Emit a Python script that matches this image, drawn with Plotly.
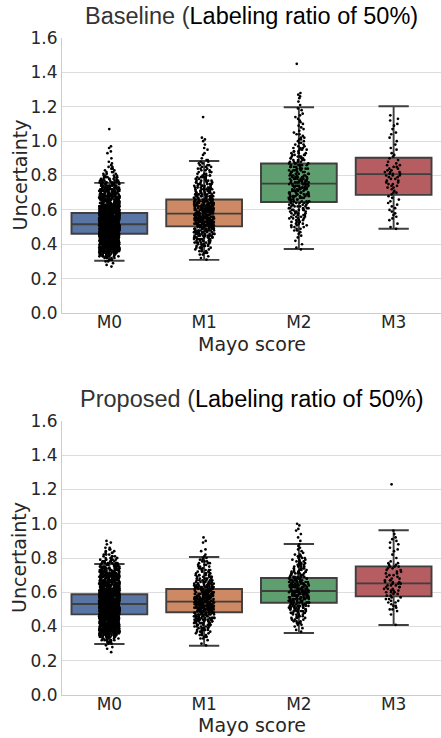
import plotly.graph_objects as go

categories = ["M0", "M1", "M2", "M3"]
panel_titles = ["Baseline (", "Proposed ("]
title_tail = "Labeling ratio of 50%)"
y_ticks = [0.0, 0.2, 0.4, 0.6, 0.8, 1.0, 1.2, 1.4, 1.6]

# Box statistics
base_q1 = [0.461, 0.504, 0.646, 0.687]
base_med = [0.516, 0.578, 0.753, 0.808]
base_q3 = [0.582, 0.660, 0.870, 0.903]
base_lo = [0.304, 0.309, 0.372, 0.490]
base_hi = [0.757, 0.884, 1.197, 1.203]

prop_q1 = [0.471, 0.483, 0.539, 0.576]
prop_med = [0.531, 0.545, 0.607, 0.652]
prop_q3 = [0.588, 0.619, 0.683, 0.751]
prop_lo = [0.298, 0.288, 0.362, 0.409]
prop_hi = [0.765, 0.806, 0.882, 0.962]

# Strip-point clouds, read as (value, number of dots at that value)
base_m0_y = [0.27, 0.28, 0.29, 0.30, 0.31, 0.32, 0.33, 0.34, 0.35, 0.36, 0.37, 0.38, 0.39, 0.40,
             0.41, 0.42, 0.43, 0.44, 0.45, 0.46, 0.47, 0.48, 0.49, 0.50, 0.51, 0.52, 0.53, 0.54,
             0.55, 0.56, 0.57, 0.58, 0.59, 0.60, 0.61, 0.62, 0.63, 0.64, 0.65, 0.66, 0.67, 0.68,
             0.69, 0.70, 0.71, 0.72, 0.73, 0.74, 0.75, 0.76, 0.77, 0.78, 0.79, 0.80, 0.81, 0.82,
             0.83, 0.84, 0.85, 0.86, 0.87, 0.88, 0.90, 0.93, 0.94, 0.96, 0.97, 1.07]
base_m0_n = [1, 1, 1, 2, 3, 5, 8, 11, 14, 17, 20, 23, 26, 28,
             30, 33, 35, 37, 40, 40, 42, 42, 42, 42, 42, 42, 40, 40,
             38, 35, 33, 30, 30, 28, 25, 25, 23, 22, 20, 20, 18, 17,
             17, 15, 15, 15, 13, 12, 11, 9, 8, 6, 5, 4, 3, 3,
             2, 2, 2, 1, 1, 1, 1, 1, 1, 1, 1, 1]
base_m1_y = [0.31, 0.32, 0.33, 0.34, 0.35, 0.36, 0.37, 0.38, 0.39, 0.40, 0.41, 0.42, 0.43, 0.44,
             0.45, 0.46, 0.47, 0.48, 0.49, 0.50, 0.51, 0.52, 0.53, 0.54, 0.55, 0.56, 0.57, 0.58,
             0.59, 0.60, 0.61, 0.62, 0.63, 0.64, 0.65, 0.66, 0.67, 0.68, 0.69, 0.70, 0.71, 0.72,
             0.73, 0.74, 0.75, 0.76, 0.77, 0.78, 0.79, 0.80, 0.81, 0.82, 0.83, 0.84, 0.85, 0.86,
             0.87, 0.88, 0.89, 0.90, 0.92, 0.93, 0.95, 0.96, 0.98, 1.00, 1.01, 1.02, 1.14]
base_m1_n = [1, 1, 1, 2, 3, 3, 3, 5, 5, 5, 7, 7, 7, 8,
             8, 10, 10, 12, 12, 14, 14, 14, 15, 15, 15, 15, 15, 15,
             15, 14, 14, 14, 12, 12, 12, 10, 10, 10, 8, 8, 8, 7,
             7, 7, 7, 5, 5, 5, 5, 5, 3, 3, 3, 3, 3, 3,
             2, 2, 2, 1, 1, 1, 1, 1, 1, 1, 1, 1, 1]
base_m2_y = [0.37, 0.38, 0.40, 0.42, 0.44, 0.45, 0.46, 0.47, 0.48, 0.49, 0.50, 0.51, 0.52, 0.53,
             0.54, 0.55, 0.56, 0.57, 0.58, 0.59, 0.60, 0.61, 0.62, 0.63, 0.64, 0.65, 0.66, 0.67,
             0.68, 0.69, 0.70, 0.71, 0.72, 0.73, 0.74, 0.75, 0.76, 0.77, 0.78, 0.79, 0.80, 0.81,
             0.82, 0.83, 0.84, 0.85, 0.86, 0.87, 0.88, 0.89, 0.90, 0.91, 0.92, 0.93, 0.94, 0.95,
             0.96, 0.97, 0.98, 0.99, 1.00, 1.01, 1.02, 1.03, 1.04, 1.05, 1.06, 1.07, 1.08, 1.09,
             1.10, 1.11, 1.12, 1.13, 1.14, 1.15, 1.16, 1.18, 1.19, 1.21, 1.23, 1.25, 1.26, 1.27,
             1.28, 1.45]
base_m2_n = [1, 1, 1, 1, 1, 1, 1, 1, 2, 2, 3, 3, 3, 3,
             3, 4, 4, 4, 4, 4, 5, 5, 5, 5, 5, 6, 6, 7,
             7, 7, 7, 7, 7, 7, 7, 7, 7, 7, 7, 6, 6, 5,
             5, 5, 5, 5, 5, 4, 4, 4, 4, 4, 4, 3, 3, 3,
             3, 2, 2, 2, 2, 2, 2, 1, 2, 1, 1, 1, 1, 1,
             1, 1, 1, 1, 1, 1, 1, 1, 1, 1, 1, 1, 1, 1,
             1, 1]
base_m3_y = [0.49, 0.50, 0.52, 0.54, 0.55, 0.56, 0.57, 0.58, 0.59, 0.60, 0.61, 0.62, 0.63, 0.64,
             0.65, 0.66, 0.67, 0.68, 0.69, 0.70, 0.71, 0.72, 0.73, 0.74, 0.75, 0.76, 0.77, 0.78,
             0.79, 0.80, 0.81, 0.82, 0.83, 0.84, 0.85, 0.86, 0.87, 0.88, 0.89, 0.90, 0.91, 0.92,
             0.93, 0.95, 0.96, 0.98, 1.00, 1.02, 1.04, 1.05, 1.07, 1.09, 1.10, 1.12, 1.13, 1.15]
base_m3_n = [1, 1, 1, 1, 1, 1, 1, 1, 1, 1, 1, 1, 1, 1,
             1, 1, 1, 1, 1, 2, 1, 1, 2, 2, 2, 2, 2, 2,
             2, 3, 3, 3, 2, 2, 2, 2, 1, 1, 1, 1, 1, 1,
             1, 1, 1, 1, 1, 1, 1, 1, 1, 1, 1, 1, 1, 1]

prop_m0_y = [0.25, 0.27, 0.28, 0.29, 0.30, 0.31, 0.32, 0.33, 0.34, 0.35, 0.36, 0.37, 0.38, 0.39,
             0.40, 0.41, 0.42, 0.43, 0.44, 0.45, 0.46, 0.47, 0.48, 0.49, 0.50, 0.51, 0.52, 0.53,
             0.54, 0.55, 0.56, 0.57, 0.58, 0.59, 0.60, 0.61, 0.62, 0.63, 0.64, 0.65, 0.66, 0.67,
             0.68, 0.69, 0.70, 0.71, 0.72, 0.73, 0.74, 0.75, 0.76, 0.77, 0.78, 0.79, 0.80, 0.81,
             0.82, 0.83, 0.84, 0.85, 0.86, 0.88, 0.89, 0.90]
prop_m0_n = [1, 1, 1, 1, 2, 3, 5, 7, 10, 13, 16, 19, 22, 25,
             28, 30, 33, 35, 37, 39, 41, 42, 42, 43, 43, 43, 43, 43,
             42, 41, 39, 37, 35, 33, 31, 29, 27, 26, 24, 22, 21, 19,
             18, 17, 16, 15, 14, 13, 12, 11, 10, 8, 7, 6, 5, 4,
             3, 3, 2, 2, 2, 1, 1, 1]
prop_m1_y = [0.29, 0.30, 0.32, 0.33, 0.34, 0.35, 0.36, 0.37, 0.38, 0.39, 0.40, 0.41, 0.42, 0.43,
             0.44, 0.45, 0.46, 0.47, 0.48, 0.49, 0.50, 0.51, 0.52, 0.53, 0.54, 0.55, 0.56, 0.57,
             0.58, 0.59, 0.60, 0.61, 0.62, 0.63, 0.64, 0.65, 0.66, 0.67, 0.68, 0.69, 0.70, 0.71,
             0.72, 0.73, 0.74, 0.75, 0.76, 0.77, 0.78, 0.79, 0.80, 0.81, 0.82, 0.84, 0.85, 0.89,
             0.90, 0.92]
prop_m1_n = [1, 1, 1, 2, 3, 3, 3, 5, 5, 5, 6, 6, 8, 8,
             10, 10, 11, 11, 13, 13, 14, 14, 14, 14, 14, 14, 14, 13,
             13, 13, 11, 11, 10, 10, 8, 8, 8, 6, 6, 6, 5, 5,
             4, 4, 3, 3, 3, 3, 3, 2, 2, 1, 1, 1, 1, 1,
             1, 1]
prop_m2_y = [0.37, 0.38, 0.39, 0.40, 0.41, 0.42, 0.43, 0.44, 0.45, 0.46, 0.47, 0.48, 0.49, 0.50,
             0.51, 0.52, 0.53, 0.54, 0.55, 0.56, 0.57, 0.58, 0.59, 0.60, 0.61, 0.62, 0.63, 0.64,
             0.65, 0.66, 0.67, 0.68, 0.69, 0.70, 0.71, 0.72, 0.73, 0.74, 0.75, 0.76, 0.77, 0.78,
             0.79, 0.80, 0.81, 0.82, 0.83, 0.84, 0.85, 0.86, 0.87, 0.88, 0.90, 0.92, 0.94, 0.96,
             0.97, 0.99, 1.00]
prop_m2_n = [1, 1, 1, 1, 2, 3, 3, 3, 4, 4, 4, 6, 6, 7,
             7, 8, 8, 10, 10, 10, 11, 11, 11, 11, 11, 10, 10, 10,
             8, 8, 7, 7, 7, 6, 6, 6, 4, 4, 4, 4, 3, 3,
             3, 3, 3, 2, 1, 1, 1, 1, 1, 1, 1, 1, 1, 1,
             1, 1, 1]
prop_m3_y = [0.41, 0.47, 0.49, 0.50, 0.51, 0.52, 0.53, 0.54, 0.55, 0.56, 0.57, 0.58, 0.59, 0.60,
             0.61, 0.62, 0.63, 0.64, 0.65, 0.66, 0.67, 0.68, 0.69, 0.70, 0.71, 0.72, 0.73, 0.74,
             0.75, 0.76, 0.77, 0.78, 0.80, 0.82, 0.84, 0.85, 0.86, 0.88, 0.89, 0.90, 0.91, 0.92,
             0.94, 0.96, 1.23]
prop_m3_n = [1, 1, 1, 2, 1, 2, 1, 2, 2, 2, 2, 2, 2, 3,
             3, 3, 3, 3, 3, 3, 3, 2, 2, 2, 2, 2, 2, 2,
             3, 2, 2, 1, 1, 1, 1, 1, 1, 1, 1, 1, 1, 1,
             1, 1, 1]

box_colors = ["#5975a4", "#cc8963", "#5f9e6e", "#b55d60"]


def expand(vals, counts):
    return [v for v, n in zip(vals, counts) for _ in range(n)]


panels = [
    dict(pts=[expand(base_m0_y, base_m0_n), expand(base_m1_y, base_m1_n),
              expand(base_m2_y, base_m2_n), expand(base_m3_y, base_m3_n)],
         q1=base_q1, med=base_med, q3=base_q3, lo=base_lo, hi=base_hi, xa="x", ya="y"),
    dict(pts=[expand(prop_m0_y, prop_m0_n), expand(prop_m1_y, prop_m1_n),
              expand(prop_m2_y, prop_m2_n), expand(prop_m3_y, prop_m3_n)],
         q1=prop_q1, med=prop_med, q3=prop_q3, lo=prop_lo, hi=prop_hi, xa="x2", ya="y2"),
]

fig = go.Figure()
for p in panels:
    for i, cat in enumerate(categories):
        fig.add_trace(go.Box(
            x=[cat], y=[p["pts"][i]],
            q1=[p["q1"][i]], median=[p["med"][i]], q3=[p["q3"][i]],
            lowerfence=[p["lo"][i]], upperfence=[p["hi"][i]],
            boxpoints="all", jitter=0.27, pointpos=0,
            width=0.8, whiskerwidth=0.4,
            fillcolor=box_colors[i],
            line=dict(color="#3f3f3f", width=1.9),
            marker=dict(color="black", size=2.7, line=dict(width=0)),
            xaxis=p["xa"], yaxis=p["ya"], showlegend=False, hoverinfo="skip",
        ))

H, W = 738, 441
left = 62 / W
tick_font = dict(family="DejaVu Sans", size=17, color="#262626")
axis_common = dict(showgrid=False, showline=True, linecolor="#cccccc", linewidth=1,
                   ticks="", tickfont=tick_font, categoryorder="array", automargin=False,
                   categoryarray=categories, range=[-0.5, 3.5], fixedrange=True,
                   ticklabelstandoff=-6)
yaxis_common = dict(range=[0, 1.6], tickvals=y_ticks, ticktext=[f"{v:.1f}" for v in y_ticks],
                    showgrid=True, gridcolor="#dddddd", gridwidth=1, zeroline=False,
                    showline=True, linecolor="#cccccc", linewidth=1, ticks="", automargin=False,
                    tickfont=tick_font, fixedrange=True)

top_dom = [(H - 313) / H, (H - 38) / H]
bot_dom = [(H - 695) / H, (H - 421) / H]

fig.update_layout(
    width=W, height=H, margin=dict(l=0, r=0, t=0, b=0, autoexpand=False),
    paper_bgcolor="white", plot_bgcolor="white",
    boxmode="overlay",
    xaxis=dict(domain=[left, 1], anchor="y", **axis_common),
    yaxis=dict(domain=top_dom, anchor="x", **yaxis_common),
    xaxis2=dict(domain=[left, 1], anchor="y2", **axis_common),
    yaxis2=dict(domain=bot_dom, anchor="x2", **yaxis_common),
)

title_font = dict(family="Liberation Sans", size=23.5, color="#333333")
label_font = dict(family="DejaVu Sans", size=19, color="#262626")
cx = (left + 1) / 2
annotations = [
    dict(text=panel_titles[0] + "<span style='color:#000000'>" + title_tail + "</span>",
         x=cx, y=1 - 15.5 / H, font=title_font),
    dict(text=panel_titles[1] + "<span style='color:#000000'>" + title_tail + "</span>",
         x=cx, y=1 - 398.5 / H, font=title_font),
    dict(text="Mayo score", x=cx, y=1 - 344 / H, font=label_font),
    dict(text="Mayo score", x=cx, y=1 - 725 / H, font=label_font),
    dict(text="Uncertainty", x=19 / W, y=1 - 175.5 / H, textangle=-90, font=label_font),
    dict(text="Uncertainty", x=19 / W, y=1 - 558 / H, textangle=-90, font=label_font),
]
for a in annotations:
    a.update(xref="paper", yref="paper", xanchor="center", yanchor="middle", showarrow=False)
fig.update_layout(annotations=annotations)

fig.write_html("out.html", config={"displayModeBar": False},
               post_script="document.body.style.margin='0';document.body.style.overflow='hidden';")
